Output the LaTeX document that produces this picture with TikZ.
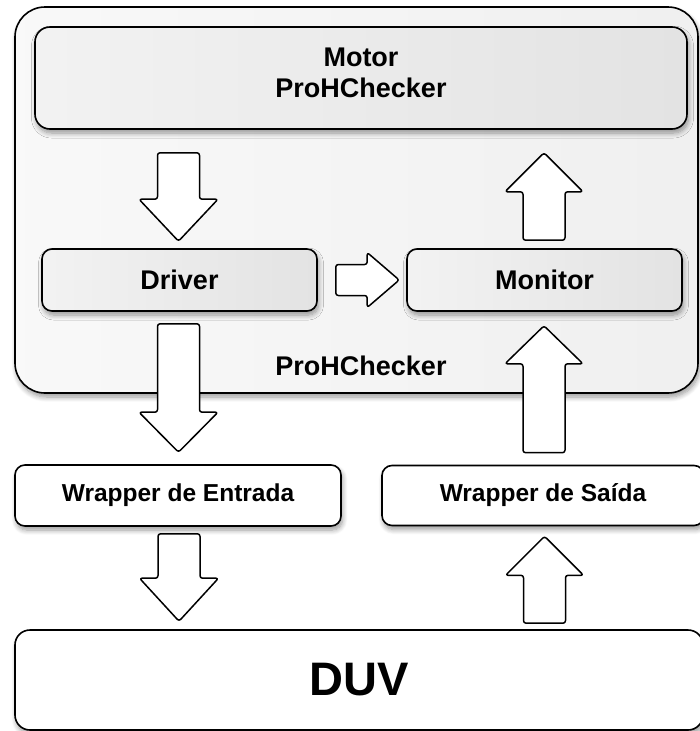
\documentclass[tikz,border=0pt]{standalone}
\usepackage{fontspec}
\setmainfont{Liberation Sans}
\usetikzlibrary{calc,shadows.blur}

% block arrow from #1 (tail centre) to #2 (tip): half shaft width #3, half head width #4, head length #5
\newcommand\flowarrow[5]{%
  \coordinate (fa-s) at ($(#2)!#5!(#1)$);
  \draw[flow] ($(#1)!#3!90:(#2)$) -- ($(fa-s)!#3!90:(#2)$) -- ($(fa-s)!#4!90:(#2)$)
    -- (#2) -- ($(fa-s)!#4!-90:(#2)$) -- ($(fa-s)!#3!-90:(#2)$) -- ($(#1)!#3!-90:(#2)$) -- cycle;
}

\tikzset{
  softshadow/.style={blur shadow={shadow xshift=1.5pt, shadow yshift=-4pt,
      shadow blur radius=5pt, shadow blur steps=8, shadow opacity=40}},
  panel/.style={draw=black, line width=1.6pt, rounded corners=#1, softshadow,
      inner sep=0pt, align=center},
  graybox/.style={panel=#1, left color=gray!10, right color=gray!22},
  whitebox/.style={panel=#1, fill=white},
  bigtxt/.style={font=\bfseries\fontsize{27}{31}\selectfont},
  wraptxt/.style={font=\bfseries\fontsize{24.5}{28}\selectfont},
  flow/.style={draw=black, fill=white, line width=1.5pt, rounded corners=2.5pt, line join=round},
}

\begin{document}
\begin{tikzpicture}[x=1pt, y=-1pt]
  \useasboundingbox (0,0) rectangle (700,731);

  % ProHChecker container
  \node[panel=30pt, left color=gray!5, right color=gray!12,
        minimum width=683pt, minimum height=386pt] (checker) at (356.5,200) {};
  \node[bigtxt] (checkerlabel) at (361,366) {ProHChecker};

  % inner blocks
  \node[graybox=15pt, minimum width=652pt, minimum height=102pt] (motor) at (361,78) {};
  \node[bigtxt, align=center] (motorlabel) at (361,73) {Motor\\ProHChecker};
  \node[graybox=10pt, bigtxt, minimum width=275pt, minimum height=62pt] (driver) at (179.5,280) {Driver};
  \node[graybox=10pt, bigtxt, minimum width=275pt, minimum height=62pt] (monitor) at (544.5,280) {Monitor};

  % wrappers and DUV
  \node[whitebox=10pt, wraptxt, minimum width=326pt, minimum height=61pt] (wrapin) at (178,495.5)
       {Wrapper de Entrada};
  \node[whitebox=10pt, wraptxt, minimum width=322pt, minimum height=60pt] (wrapout) at (543,495.5)
       {Wrapper de Saída};
  \node[whitebox=15pt, font=\bfseries\fontsize{47}{52}\selectfont,
        minimum width=688pt, minimum height=100pt] (duv) at (359,680) {DUV};

  % data flow
  \flowarrow{$(driver.north |- motor.south)+(-1,23)$}{$(driver.north)+(-1,-7)$}{21pt}{39.5pt}{42pt}
  \flowarrow{$(driver.south)+(-1,12)$}{$(driver.south |- wrapin.north)+(-1,-12)$}{21pt}{39.5pt}{40pt}
  \flowarrow{$(wrapin.south)+(1,7)$}{$(wrapin.south |- duv.north)+(1,-8)$}{21pt}{39.5pt}{43pt}
  \flowarrow{$(monitor.south |- duv.north)+(0,-6)$}{$(monitor.south |- wrapout.south)+(0,10)$}{21pt}{39pt}{39pt}
  \flowarrow{$(monitor.south |- wrapout.north)+(-0.5,-12)$}{$(monitor.south)+(-0.5,14)$}{21pt}{39pt}{38pt}
  \flowarrow{$(monitor.north)+(-0.5,-8)$}{$(monitor.north |- motor.south)+(-0.5,23)$}{21pt}{39pt}{39pt}
  \flowarrow{$(driver.east)+(18,0)$}{$(monitor.west)+(-7,0)$}{15.5pt}{27.5pt}{32pt}
\end{tikzpicture}
\end{document}
